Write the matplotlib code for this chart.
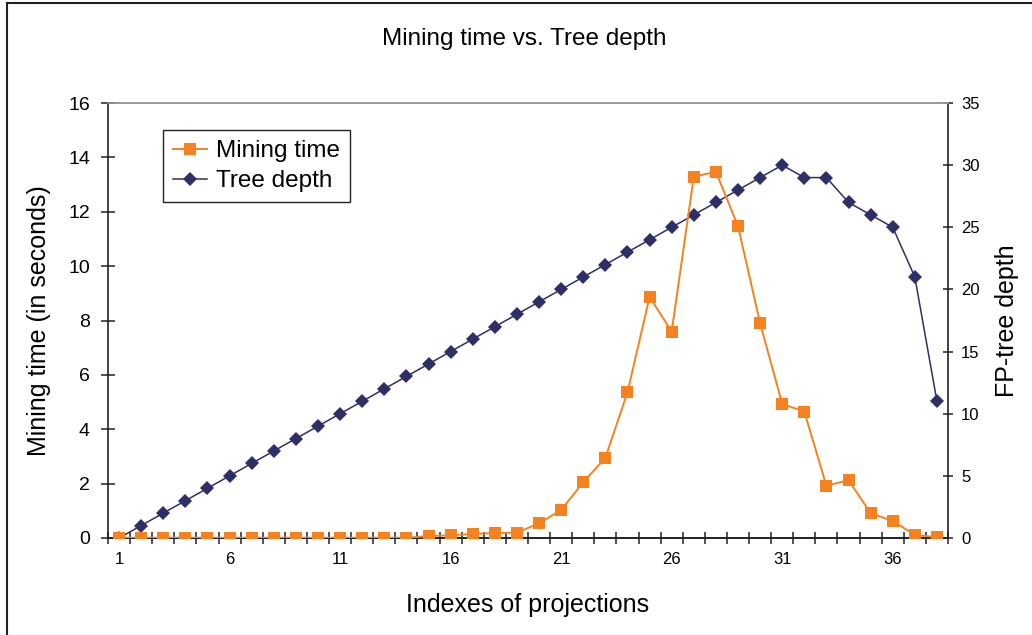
import matplotlib
matplotlib.use("Agg")
import matplotlib.pyplot as plt
from matplotlib.lines import Line2D

plt.rcParams['font.family'] = ['Liberation Sans', 'DejaVu Sans']

# ---- data ----
indexes = list(range(1, 39))
mining_time = [0.01] * 14 + [0.07, 0.10, 0.15, 0.18, 0.20, 0.54, 1.03, 2.05, 2.95,
                             5.36, 8.87, 7.59, 13.29, 13.47, 11.47, 7.90, 4.93, 4.65,
                             1.92, 2.13, 0.91, 0.63, 0.11, 0.03]
tree_depth = list(range(0, 31)) + [29, 29, 27, 26, 25, 21, 11]
x_label_positions = [1, 6, 11, 16, 21, 26, 31, 36]
x_tick_labels = [str(v) for v in x_label_positions]
left_ticks = [0, 2, 4, 6, 8, 10, 12, 14, 16]
right_ticks = [0, 5, 10, 15, 20, 25, 30, 35]

ORANGE = '#F5821F'
NAVY = '#2E2F66'

fig = plt.figure(figsize=(10.32, 6.35), dpi=100)
ax = fig.add_axes([108/1032, 1-538/635, 840/1032, 435/635])
ax2 = ax.twinx()

l2, = ax2.plot(indexes, tree_depth, color=NAVY, lw=1.1, marker='D', ms=7.3,
               mec=NAVY, mfc=NAVY, mew=0, label='Tree depth', zorder=3)
l1, = ax.plot(indexes, mining_time, color=ORANGE, lw=1.4, marker='s', ms=8.3,
              mec=ORANGE, mfc=ORANGE, mew=0, label='Mining time', zorder=3)
ax.set_zorder(ax2.get_zorder() + 1)
ax.patch.set_visible(False)

ax.set_xlim(0.5, 38.5)
ax.set_ylim(0, 16)
ax2.set_ylim(0, 35)

# x ticks at category boundaries, labels at category centers
boundaries = [i + 0.5 for i in range(0, 39)]
ax.set_xticks(boundaries)
ax.set_xticklabels([''] * len(boundaries))
ax.set_xticks(x_label_positions, minor=True)
ax.set_xticklabels(x_tick_labels, minor=True)
ax.tick_params(axis='x', which='major', direction='inout', length=9, width=1.1, color='#222222')
ax.tick_params(axis='x', which='minor', length=0, labelsize=12, pad=10)

ax.set_yticks(left_ticks)
ax.tick_params(axis='y', direction='inout', length=10, width=1.1, labelsize=14, pad=8, color='#222222')
ax2.set_yticks(right_ticks)
ax2.tick_params(axis='y', direction='inout', length=7, width=1.1, labelsize=12, pad=6, color='#222222')

for a in (ax, ax2):
    for s in ('left', 'right', 'bottom'):
        a.spines[s].set_color('#222222')
        a.spines[s].set_linewidth(1.2)
    a.spines['top'].set_color('#999999')
    a.spines['top'].set_linewidth(1.2)
ax.spines['right'].set_visible(False)
ax2.spines['left'].set_visible(False)

ax.set_xlabel('Indexes of projections', fontsize=18, labelpad=19)
ax.set_ylabel('Mining time (in seconds)', fontsize=18, labelpad=12)
ax2.set_ylabel('FP-tree depth', fontsize=18, labelpad=11)
fig.text(524/1032, 1-39/635, 'Mining time vs. Tree depth', fontsize=17.5,
         ha='center', va='center')

leg = ax.legend(handles=[l1, l2], loc='upper left',
                bbox_to_anchor=((163-108)/840, (538-130)/435),
                fontsize=17.5, frameon=True, fancybox=False, framealpha=1,
                edgecolor='#222222', borderpad=0.42, handlelength=1.4,
                handletextpad=0.35, labelspacing=0.32, borderaxespad=0)
leg.get_frame().set_linewidth(1.0)

# figure border (left and top only visible)
fig.add_artist(Line2D([6.5/1032, 6.5/1032], [0, 1-3/635], transform=fig.transFigure,
                      color='#222222', lw=1.5))
fig.add_artist(Line2D([6.5/1032, 1], [1-3/635, 1-3/635], transform=fig.transFigure,
                      color='#222222', lw=1.5))

fig.savefig('out.png', dpi=100)
